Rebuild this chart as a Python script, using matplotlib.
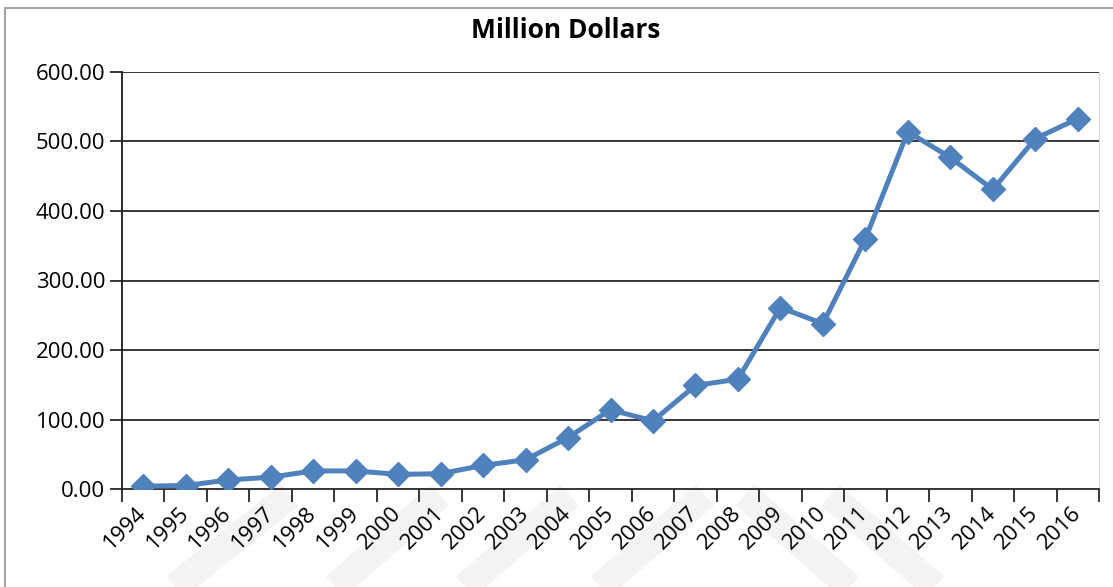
import numpy as np
import matplotlib.pyplot as plt
from matplotlib.lines import Line2D
from matplotlib.patches import Rectangle

# Данные
years = ['1994', '1995', '1996', '1997', '1998', '1999', '2000', '2001',
         '2002', '2003', '2004', '2005', '2006', '2007', '2008', '2009',
         '2010', '2011', '2012', '2013', '2014', '2015', '2016']
values = [4, 5, 13, 17, 26, 26, 21, 22, 34, 42, 74, 114, 98, 149, 158,
          261, 238, 360, 514, 477, 431, 504, 533]
y_ticks = [0, 100, 200, 300, 400, 500, 600]

plt.rcParams['font.family'] = ['Open Sans', 'DejaVu Sans']

fig = plt.figure(figsize=(11.13, 5.87), dpi=100)

# светлый водяной знак под осью X
W, H = 1113, 587
for x0, x1, y0, y1 in [(175, 290, 587, 495), (335, 440, 587, 495),
                       (465, 570, 587, 495), (600, 705, 587, 495),
                       (745, 850, 495, 587), (830, 935, 495, 587)]:
    fig.add_artist(Line2D([x0 / W, x1 / W], [1 - y0 / H, 1 - y1 / H],
                          transform=fig.transFigure, color='#f3f3f3',
                          lw=20, solid_capstyle='butt', zorder=0))

# рамка диаграммы
fig.add_artist(Rectangle((5 / W, -0.05), 1.2, 1 - 8 / H + 0.05,
                         transform=fig.transFigure, fill=False,
                         edgecolor='#a6a6a6', lw=1.5, zorder=1))

ax = fig.add_axes([122 / W, 1 - 489 / H, (1099 - 122) / W, (489 - 72) / H])
ax.set_facecolor('none')

x = np.arange(len(years))
ax.plot(x, values, color='#4f81bd', lw=3.6, marker='D', markersize=12,
        zorder=3)

ax.set_ylim(0, 600)
ax.set_xlim(-0.5, len(years) - 0.5)
ax.set_yticks(y_ticks)
ax.set_yticklabels(['%.2f' % v for v in y_ticks], fontsize=16)
for v in y_ticks[1:]:
    ax.axhline(v, color='#262626', lw=1.3, zorder=1)

ax.set_xticks(x)
ax.set_xticklabels(years, fontsize=16, rotation=45, ha='right',
                   va='center', rotation_mode='anchor')
ax.set_xticks(np.arange(-0.5, len(years)), minor=True)
ax.tick_params(axis='x', which='major', length=0, pad=15)
ax.tick_params(axis='x', which='minor', length=9, width=1.3, color='#262626')
ax.tick_params(axis='y', length=9, width=1.3, color='#262626', pad=3)

ax.spines['top'].set_visible(False)
ax.spines['right'].set_color('#d9d9d9')
ax.spines['left'].set_color('#1a1a1a')
ax.spines['bottom'].set_color('#262626')
ax.spines['left'].set_linewidth(1.3)
ax.spines['bottom'].set_linewidth(1.3)

fig.text(566 / W, 1 - 30 / H, 'Million Dollars', ha='center', va='center',
         fontsize=19, fontweight='bold')

fig.savefig('out.png', dpi=100)
